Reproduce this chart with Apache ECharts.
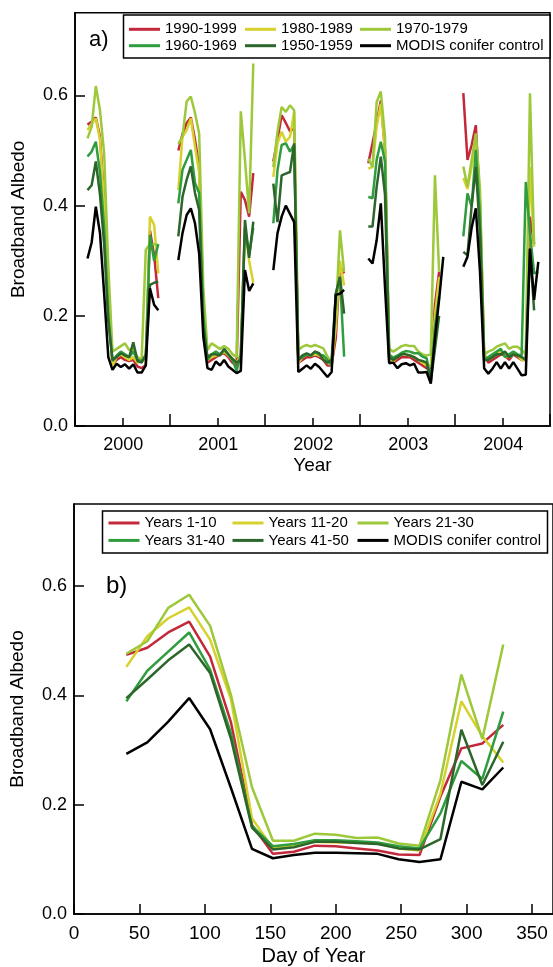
<!DOCTYPE html>
<html>
<head>
<meta charset="utf-8">
<script src="https://cdn.jsdelivr.net/npm/echarts@6/dist/echarts.min.js"></script>
<style>
  html, body { margin: 0; padding: 0; background: #fff; }
  #chart { width: 553px; height: 967px; }
</style>
</head>
<body>
<div id="chart"></div>
<script>
// ---- Panel a: broadband albedo per 16-day composite, 2000-2004 ----
const compositeDays = [33, 49, 65, 81, 97, 113, 129, 145, 161, 177, 193, 209, 225, 241, 257, 273, 289, 305, 321];
const years = [2000, 2001, 2002, 2003, 2004];

// one row per year, one value per composite day (null = no retrieval)
const stand1990s = [
  [null, 0.547, 0.552, 0.560, 0.525, 0.41, 0.23, 0.112, 0.120, 0.125, 0.120, 0.118, 0.120, 0.108, 0.105, 0.110, 0.355, 0.310, 0.232],
  [0.50, 0.53, 0.55, 0.56, 0.52, 0.47, 0.22, 0.115, 0.120, 0.125, 0.130, 0.132, 0.125, 0.115, 0.110, 0.425, 0.410, 0.380, 0.459],
  [0.48, 0.52, 0.564, 0.55, 0.535, 0.54, 0.115, 0.12, 0.125, 0.125, 0.128, 0.125, 0.12, 0.11, 0.11, 0.16, 0.29, 0.277, null],
  [0.477, 0.513, 0.55, 0.591, 0.50, 0.12, 0.115, 0.12, 0.125, 0.125, 0.125, 0.12, 0.115, 0.11, 0.105, 0.10, 0.22, 0.28, null],
  [0.604, 0.483, 0.51, 0.546, 0.40, 0.13, 0.115, 0.12, 0.125, 0.13, 0.128, 0.12, 0.13, 0.125, 0.12, 0.12, 0.38, 0.33, null]
];
const stand1980s = [
  [null, 0.537, 0.549, 0.558, 0.52, 0.40, 0.22, 0.11, 0.125, 0.13, 0.125, 0.12, 0.125, 0.115, 0.12, 0.12, 0.38, 0.365, 0.277],
  [0.428, 0.525, 0.537, 0.558, 0.507, 0.459, 0.20, 0.12, 0.125, 0.128, 0.13, 0.135, 0.128, 0.12, 0.115, 0.13, 0.36, 0.30, 0.26],
  [0.452, 0.513, 0.534, 0.516, 0.525, 0.57, 0.115, 0.125, 0.13, 0.128, 0.13, 0.128, 0.125, 0.115, 0.11, 0.18, 0.30, 0.255, null],
  [0.467, 0.47, 0.543, 0.585, 0.50, 0.12, 0.118, 0.125, 0.13, 0.13, 0.128, 0.125, 0.12, 0.115, 0.11, 0.11, 0.20, 0.27, null],
  [0.45, 0.43, 0.47, 0.52, 0.41, 0.13, 0.12, 0.125, 0.13, 0.135, 0.13, 0.125, 0.13, 0.128, 0.12, 0.12, 0.47, 0.325, null]
];
const stand1970s = [
  [null, 0.522, 0.543, 0.617, 0.573, 0.495, 0.29, 0.135, 0.14, 0.145, 0.15, 0.138, 0.14, 0.125, 0.12, 0.32, 0.33, 0.33, 0.328],
  [0.512, 0.525, 0.589, 0.598, 0.568, 0.531, 0.25, 0.138, 0.15, 0.145, 0.14, 0.145, 0.14, 0.13, 0.125, 0.571, 0.483, 0.386, 0.658],
  [0.47, 0.534, 0.579, 0.57, 0.582, 0.573, 0.138, 0.144, 0.147, 0.144, 0.147, 0.144, 0.141, 0.126, 0.115, 0.20, 0.355, 0.28, null],
  [0.485, 0.47, 0.588, 0.607, 0.525, 0.14, 0.135, 0.14, 0.145, 0.147, 0.145, 0.145, 0.135, 0.13, 0.128, 0.13, 0.455, 0.28, null],
  [0.471, 0.434, 0.483, 0.531, 0.43, 0.13, 0.135, 0.138, 0.144, 0.147, 0.15, 0.14, 0.144, 0.144, 0.138, 0.13, 0.604, 0.33, null]
];
const stand1960s = [
  [null, 0.489, 0.498, 0.516, 0.46, 0.36, 0.20, 0.118, 0.128, 0.135, 0.13, 0.125, 0.135, 0.12, 0.118, 0.125, 0.347, 0.30, 0.33],
  [0.404, 0.465, 0.483, 0.501, 0.441, 0.423, 0.20, 0.12, 0.13, 0.135, 0.13, 0.138, 0.13, 0.12, 0.10, 0.13, 0.36, 0.31, 0.36],
  [0.368, 0.464, 0.51, 0.513, 0.498, 0.51, 0.12, 0.125, 0.13, 0.128, 0.135, 0.13, 0.128, 0.12, 0.11, 0.24, 0.27, 0.126, null],
  [0.416, 0.413, 0.483, 0.516, 0.48, 0.13, 0.124, 0.128, 0.133, 0.136, 0.135, 0.132, 0.132, 0.126, 0.123, 0.085, 0.18, 0.235, null],
  [0.344, 0.422, 0.398, 0.501, 0.38, 0.12, 0.125, 0.13, 0.135, 0.14, 0.125, 0.13, 0.135, 0.13, 0.128, 0.443, 0.35, 0.277, 0.28]
];
const stand1950s = [
  [null, 0.428, 0.437, 0.48, 0.42, 0.33, 0.19, 0.12, 0.125, 0.132, 0.128, 0.125, 0.152, 0.118, 0.115, 0.13, 0.256, 0.26, 0.262],
  [0.344, 0.416, 0.447, 0.471, 0.423, 0.392, 0.18, 0.125, 0.13, 0.13, 0.128, 0.14, 0.13, 0.122, 0.115, 0.12, 0.374, 0.305, 0.371],
  [0.44, 0.37, 0.455, 0.458, 0.461, 0.513, 0.12, 0.128, 0.132, 0.128, 0.135, 0.132, 0.12, 0.115, 0.12, 0.24, 0.271, 0.204, null],
  [0.362, 0.362, 0.434, 0.489, 0.42, 0.125, 0.12, 0.125, 0.13, 0.13, 0.128, 0.125, 0.12, 0.118, 0.115, 0.08, 0.14, 0.20, null],
  [0.316, 0.31, 0.40, 0.47, 0.35, 0.12, 0.12, 0.125, 0.13, 0.13, 0.135, 0.125, 0.13, 0.128, 0.125, 0.12, 0.32, 0.21, null]
];
const modisControl = [
  [null, 0.304, 0.333, 0.398, 0.35, 0.24, 0.125, 0.102, 0.113, 0.107, 0.112, 0.104, 0.112, 0.097, 0.097, 0.11, 0.25, 0.22, 0.21],
  [0.301, 0.35, 0.383, 0.395, 0.368, 0.313, 0.162, 0.105, 0.102, 0.117, 0.11, 0.12, 0.108, 0.102, 0.096, 0.10, 0.283, 0.245, 0.259],
  [0.283, 0.35, 0.38, 0.40, 0.385, 0.37, 0.098, 0.104, 0.11, 0.104, 0.113, 0.107, 0.098, 0.089, 0.098, 0.238, 0.24, 0.247, null],
  [0.304, 0.295, 0.337, 0.404, 0.253, 0.114, 0.115, 0.105, 0.112, 0.114, 0.11, 0.113, 0.097, 0.097, 0.098, 0.077, 0.16, 0.23, 0.307],
  [0.289, 0.307, 0.36, 0.395, 0.28, 0.105, 0.095, 0.104, 0.116, 0.104, 0.116, 0.104, 0.116, 0.104, 0.092, 0.093, 0.322, 0.229, 0.298]
];

// ---- Panel b: mean seasonal cycle by stand age ----
const meanDays = [40, 56, 72, 88, 104, 120, 136, 152, 168, 184, 200, 216, 232, 248, 264, 280, 296, 312, 328];
const years1to10  = [0.474, 0.487, 0.515, 0.535, 0.471, 0.35, 0.163, 0.110, 0.114, 0.125, 0.124, 0.120, 0.116, 0.109, 0.108, 0.215, 0.303, 0.312, 0.346];
const years11to20 = [0.452, 0.508, 0.541, 0.561, 0.502, 0.392, 0.175, 0.120, 0.126, 0.132, 0.131, 0.131, 0.129, 0.120, 0.116, 0.22, 0.389, 0.325, 0.277];
const years21to30 = [0.476, 0.499, 0.56, 0.584, 0.527, 0.40, 0.232, 0.134, 0.134, 0.147, 0.145, 0.139, 0.140, 0.129, 0.125, 0.245, 0.438, 0.32, 0.493];
const years31to40 = [0.389, 0.445, 0.48, 0.515, 0.447, 0.33, 0.161, 0.124, 0.128, 0.135, 0.135, 0.133, 0.131, 0.124, 0.12, 0.184, 0.28, 0.247, 0.37];
const years41to50 = [0.395, 0.429, 0.464, 0.493, 0.441, 0.32, 0.158, 0.118, 0.122, 0.132, 0.132, 0.130, 0.128, 0.120, 0.118, 0.137, 0.337, 0.236, 0.315];
const meanModis   = [0.293, 0.314, 0.352, 0.395, 0.338, 0.23, 0.119, 0.102, 0.108, 0.112, 0.112, 0.111, 0.110, 0.100, 0.095, 0.100, 0.242, 0.228, 0.268];

const namesA = ['1990-1999', '1980-1989', '1970-1979', '1960-1969', '1950-1959', 'MODIS conifer control'];
const namesB = ['Years 1-10', 'Years 11-20', 'Years 21-30', 'Years 31-40', 'Years 41-50', 'MODIS conifer control '];
const colors = ['#c3283a', '#d6d12c', '#9cc83a', '#2f9c3e', '#2c662b', '#000000'];

const FONT = 'Liberation Sans';

// decimal-year points, with a gap between consecutive years
function yearlyPoints(rows) {
  const pts = [];
  rows.forEach((row, yi) => {
    row.forEach((v, di) => pts.push([years[yi] + (compositeDays[di] - 1) / 365, v]));
    pts.push([years[yi] + 0.995, null]);
  });
  return pts;
}
const seasonalPoints = vals => meanDays.map((d, i) => [d, vals[i]]);

const panelA = [stand1990s, stand1980s, stand1970s, stand1960s, stand1950s, modisControl];
const panelB = [years1to10, years11to20, years21to30, years31to40, years41to50, meanModis];

const series = [];
panelA.forEach((rows, i) => series.push({
  name: namesA[i], type: 'line', xAxisIndex: 0, yAxisIndex: 0,
  data: yearlyPoints(rows), showSymbol: false, connectNulls: false,
  lineStyle: { width: 2.5, color: colors[i] }, itemStyle: { color: colors[i] }
}));
panelB.forEach((vals, i) => series.push({
  name: namesB[i], type: 'line', xAxisIndex: 1, yAxisIndex: 1,
  data: seasonalPoints(vals), showSymbol: false,
  lineStyle: { width: 2.5, color: colors[i] }, itemStyle: { color: colors[i] }
}));

const axisLine = { show: true, lineStyle: { color: '#000', width: 1.7 } };
const yAxisCommon = {
  type: 'value', min: 0, max: 0.75, interval: 0.2,
  name: 'Broadband Albedo', nameLocation: 'middle', nameGap: 47,
  nameTextStyle: { fontFamily: FONT, fontSize: 19, color: '#000' },
  axisLine: axisLine,
  axisTick: { inside: true, length: 10, lineStyle: { color: '#000', width: 1.5 } },
  axisLabel: { fontFamily: FONT, fontSize: 18, color: '#000', margin: 7, showMaxLabel: false,
               formatter: v => v.toFixed(1) },
  splitLine: { show: false }
};

function columnLegend(items, left, top, gap) {
  return {
    data: items, orient: 'vertical', left: left, top: top, padding: 0,
    itemWidth: 31, itemHeight: 3, itemGap: gap, icon: 'rect', selectedMode: false,
    textStyle: { fontFamily: FONT, fontSize: 15, color: '#000', lineHeight: 16 }
  };
}

const option = {
  animation: false,
  backgroundColor: '#fff',
  grid: [
    { left: 75, top: 12.75, width: 482.5, height: 413.25, show: true, borderColor: '#000', borderWidth: 1.5 },
    { left: 74, top: 504, width: 483, height: 410, show: true, borderColor: '#000', borderWidth: 1.5 }
  ],
  xAxis: [
    {
      gridIndex: 0, type: 'value', min: 2000, max: 2005, interval: 1,
      name: 'Year', nameLocation: 'middle', nameGap: 30,
      nameTextStyle: { fontFamily: FONT, fontSize: 19, color: '#000' },
      axisLine: axisLine,
      axisTick: { inside: true, length: 12, lineStyle: { color: '#000', width: 1.5 } },
      minorTick: { show: true, splitNumber: 2, length: 8, lineStyle: { color: '#000', width: 1.5 } },
      axisLabel: {
        fontFamily: FONT, fontSize: 18, color: '#000', margin: 10,
        align: 'center', padding: [0, 0, 0, 96.5],
        formatter: v => (v < 2005 ? String(Math.round(v)) : '')
      },
      splitLine: { show: false }, minorSplitLine: { show: false }
    },
    {
      gridIndex: 1, type: 'value', min: 0, max: 366, interval: 50,
      name: 'Day of Year', nameLocation: 'middle', nameGap: 32,
      nameTextStyle: { fontFamily: FONT, fontSize: 20, color: '#000' },
      axisLine: axisLine,
      axisTick: { inside: true, length: 10, lineStyle: { color: '#000', width: 1.5 } },
      axisLabel: { fontFamily: FONT, fontSize: 19, color: '#000', margin: 10, showMaxLabel: false },
      splitLine: { show: false }
    }
  ],
  yAxis: [
    Object.assign({ gridIndex: 0 }, yAxisCommon),
    Object.assign({ gridIndex: 1 }, yAxisCommon)
  ],
  legend: [
    columnLegend(['1990-1999', '1960-1969'], 129, 21.3, 0.4),
    columnLegend(['1980-1989', '1950-1959'], 245, 21.3, 0.4),
    columnLegend(['1970-1979', 'MODIS conifer control'], 360, 21.3, 0.4),
    columnLegend(['Years 1-10', 'Years 31-40'], 108.5, 515, 1.4),
    columnLegend(['Years 11-20', 'Years 41-50'], 232.5, 515, 1.4),
    columnLegend(['Years 21-30', 'MODIS conifer control '], 357.5, 515, 1.4)
  ],
  graphic: [
    { type: 'rect', z: 0, shape: { x: 123.5, y: 15, width: 426.5, height: 43 },
      style: { fill: '#fff', stroke: '#000', lineWidth: 1.5 } },
    { type: 'rect', z: 0, shape: { x: 102.5, y: 511, width: 445, height: 42 },
      style: { fill: '#fff', stroke: '#000', lineWidth: 1.5 } },
    { type: 'text', left: 89, top: 29, style: { text: 'a)', fontFamily: FONT, fontSize: 22, fill: '#000' } },
    { type: 'text', left: 106, top: 574, style: { text: 'b)', fontFamily: FONT, fontSize: 24, fill: '#000' } }
  ],
  series: series
};

const chart = echarts.init(document.getElementById('chart'), null, { renderer: 'canvas' });
chart.setOption(option);
</script>
</body>
</html>
